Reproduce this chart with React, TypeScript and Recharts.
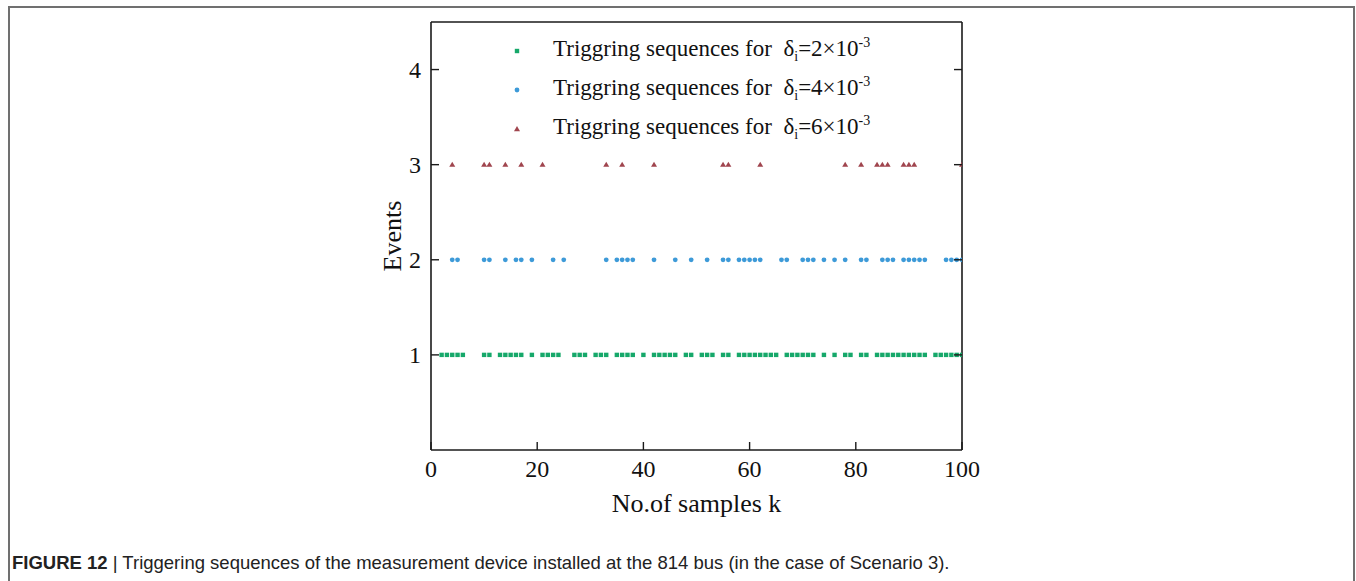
import React from "react";
import { ScatterChart, Scatter, XAxis, YAxis } from "recharts";

// sample indices k at which each threshold triggers
const trig2 = [2, 3, 4, 5, 6, 10, 11, 13, 14, 15, 16, 17, 19, 21, 22, 23, 24, 27, 28, 29, 31, 32, 33, 35, 36, 37, 38, 40, 42, 43, 44, 45, 46, 48, 49, 51, 52, 53, 55, 56, 58, 59, 60, 61, 62, 63, 64, 65, 67, 68, 69, 70, 71, 72, 74, 76, 78, 79, 81, 82, 84, 85, 86, 87, 88, 89, 90, 91, 92, 93, 95, 96, 97, 98, 99, 100];
const trig4 = [4, 5, 10, 11, 14, 16, 17, 19, 23, 25, 33, 35, 36, 37, 38, 42, 46, 49, 52, 55, 56, 58, 59, 60, 61, 62, 66, 67, 70, 71, 72, 74, 76, 78, 81, 82, 85, 86, 87, 89, 90, 91, 92, 93, 97, 98, 99, 100];
const trig6 = [4, 10, 11, 14, 17, 21, 33, 36, 42, 55, 56, 62, 78, 81, 84, 85, 86, 89, 90, 91, 100];

const xTicks = [0, 20, 40, 60, 80, 100];
const yTicks = [1, 2, 3, 4];

const series = [
  { name: "2", level: 1, ks: trig2, color: "#16a86a", shape: "square" },
  { name: "4", level: 2, ks: trig4, color: "#3d9ad8", shape: "circle" },
  { name: "6", level: 3, ks: trig6, color: "#a0454e", shape: "triangle" },
];

const FONT = "'Liberation Serif', 'Times New Roman', serif";
const AXIS = "#1a1a1a";

const Marker = ({ cx, cy, kind, color }: any) => {
  if (cx == null || cy == null) return null;
  if (kind === "square") return <rect x={cx - 2.2} y={cy - 2.2} width={4.4} height={4.4} fill={color} />;
  if (kind === "circle") return <circle cx={cx} cy={cy} r={2.4} fill={color} />;
  return <path d={`M${cx},${cy - 3} L${cx + 3},${cy + 2.2} L${cx - 3},${cy + 2.2} Z`} fill={color} />;
};

const BottomTick = ({ x, y, payload }: any) => (
  <g>
    <line x1={x} y1={y} x2={x} y2={y - 8} stroke={AXIS} strokeWidth={1.4} />
    <text x={x} y={y + 27} textAnchor="middle" fontFamily={FONT} fontSize={24} fill="#111">{payload.value}</text>
  </g>
);
const TopTick = ({ x, y }: any) => <line x1={x} y1={y} x2={x} y2={y + 8} stroke={AXIS} strokeWidth={1.4} />;
const LeftTick = ({ x, y, payload }: any) => (
  <g>
    <line x1={x} y1={y} x2={x + 8} y2={y} stroke={AXIS} strokeWidth={1.4} />
    <text x={x - 10} y={y + 8} textAnchor="end" fontFamily={FONT} fontSize={24} fill="#111">{payload.value}</text>
  </g>
);
const RightTick = ({ x, y }: any) => <line x1={x} y1={y} x2={x - 8} y2={y} stroke={AXIS} strokeWidth={1.4} />;

const LegendBox = () => (
  <div style={{ fontFamily: FONT, fontSize: 23, color: "#111" }}>
    {series.map((s) => (
      <div key={s.name} style={{ height: 39, display: "flex", alignItems: "center", whiteSpace: "nowrap" }}>
        <svg width={40} height={12} style={{ marginLeft: 8 }}>
          <Marker cx={9} cy={6} kind={s.shape} color={s.color} />
        </svg>
        <span style={{ marginLeft: 5 }}>
          Triggring sequences for&nbsp;&nbsp;δ<sub style={{ fontSize: 14 }}>i</sub>={s.name}×10<sup style={{ fontSize: 14 }}>-3</sup>
        </span>
      </div>
    ))}
  </div>
);

export default function App() {
  return (
    <div style={{ position: "absolute", left: 0, top: 0, width: 1356, height: 581, background: "#fff", overflow: "hidden" }}>
      <div style={{ position: "absolute", left: 8, top: 6, width: 1343, height: 600, borderTop: "2px solid #707070", borderLeft: "2px solid #707070", borderRight: "2px solid #707070" }} />
      <div style={{ position: "absolute", left: 0, top: 0 }}>
        <ScatterChart width={1356} height={581} margin={{ top: 12, right: 384, bottom: 101, left: 391 }}>
          <XAxis xAxisId="b" type="number" dataKey="x" domain={[0, 100]} ticks={xTicks} allowDataOverflow height={30}
            tickSize={0} tickMargin={0} tickLine={false} stroke={AXIS} axisLine={{ stroke: AXIS, strokeWidth: 1.6 }} tick={<BottomTick />}
            label={{ value: "No.of samples k", position: "bottom", offset: 14, style: { fontFamily: FONT, fontSize: 26, fill: "#111" } }} />
          <XAxis xAxisId="t" orientation="top" type="number" domain={[0, 100]} ticks={xTicks} allowDataOverflow height={10}
            tickSize={0} tickMargin={0} tickLine={false} axisLine={{ stroke: AXIS, strokeWidth: 1.6 }} tick={<TopTick />} />
          <YAxis yAxisId="l" type="number" dataKey="y" domain={[0, 4.5]} ticks={yTicks} allowDataOverflow width={40}
            tickSize={0} tickMargin={0} tickLine={false} axisLine={{ stroke: AXIS, strokeWidth: 1.6 }} tick={<LeftTick />}
            label={{
              content: ({ viewBox }: any) => {
                const cx = viewBox.x + 1;
                const cy = viewBox.y + viewBox.height / 2;
                return (
                  <text x={cx} y={cy} transform={`rotate(-90, ${cx}, ${cy})`} textAnchor="middle" dominantBaseline="central" fontFamily={FONT} fontSize={26} fill="#111">Events</text>
                );
              },
            }} />
          <YAxis yAxisId="r" orientation="right" type="number" domain={[0, 4.5]} ticks={yTicks} allowDataOverflow width={10}
            tickSize={0} tickMargin={0} tickLine={false} axisLine={{ stroke: AXIS, strokeWidth: 1.6 }} tick={<RightTick />} />
          {series.map((s) => (
            <Scatter key={s.name} name={s.name} xAxisId="b" yAxisId="l" isAnimationActive={false}
              data={s.ks.map((k) => ({ x: k, y: s.level }))} fill={s.color}
              shape={(p: any) => <Marker cx={p.cx} cy={p.cy} kind={s.shape} color={s.color} />} />
          ))}
        </ScatterChart>
      </div>
      <div style={{ position: "absolute", left: 500, top: 31 }}>
        <LegendBox />
      </div>
      <div style={{ position: "absolute", left: 12, top: 552, fontFamily: "'Liberation Sans', Arial, sans-serif", fontSize: 18.5, color: "#222", whiteSpace: "nowrap" }}>
        <b>FIGURE 12</b> | Triggering sequences of the measurement device installed at the 814 bus (in the case of Scenario 3).
      </div>
    </div>
  );
}
